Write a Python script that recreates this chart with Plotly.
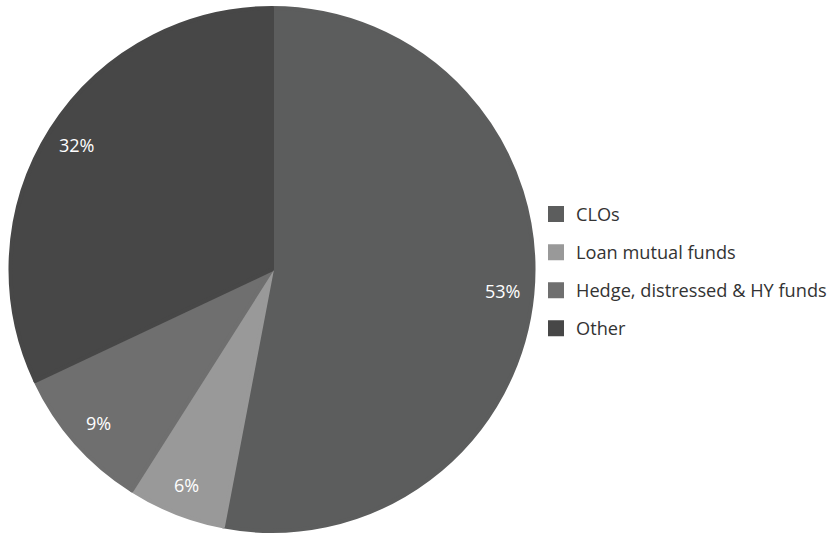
import math
import plotly.graph_objects as go

# Share of institutional loan investors
categories = ["CLOs", "Loan mutual funds", "Hedge, distressed & HY funds", "Other"]
shares = [53, 6, 9, 32]
slice_colors = ["#5c5d5d", "#999999", "#6f6f6f", "#474747"]

W, H = 835, 536
edge = 4  # slice outline in the slice's own colour (also enlarges legend swatches)
dom_x = [(7 + edge / 2) / W, (537 - edge / 2) / W]
dom_y = [(3 + edge / 2) / H, (530 - edge / 2) / H]

fig = go.Figure(
    go.Pie(
        labels=[
            f'<span style="font-size:18.2px;baseline-shift:4px">{c}</span>'
            for c in categories
        ],
        values=shares,
        sort=False,
        direction="clockwise",
        rotation=0,
        marker=dict(colors=slice_colors, line=dict(width=edge, color=slice_colors)),
        textinfo="none",
        hoverinfo="label+percent",
        domain=dict(x=dom_x, y=dom_y),
    )
)

# percentage labels placed along each slice's mid-angle
cx = (dom_x[0] + dom_x[1]) / 2 * W
cy = (1 - (dom_y[0] + dom_y[1]) / 2) * H
radius = min((dom_x[1] - dom_x[0]) * W, (dom_y[1] - dom_y[0]) * H) / 2 + edge / 2
total = sum(shares)
cum = 0
for v in shares:
    mid = (cum + v / 2) / total * 2 * math.pi
    cum += v
    px = cx + 0.88 * radius * math.sin(mid)
    py = cy - 0.88 * radius * math.cos(mid)
    fig.add_annotation(
        x=px / W, y=1 - py / H, xref="paper", yref="paper",
        xanchor="center", yanchor="middle",
        text=f"{round(v / total * 100)}%", showarrow=False,
        font=dict(family="Open Sans", size=18, color="#ffffff"),
    )

fig.update_layout(
    width=W, height=H,
    margin=dict(l=0, r=0, t=0, b=0, autoexpand=False),
    paper_bgcolor="#ffffff",
    plot_bgcolor="#ffffff",
    font=dict(family="Open Sans", color="#333333"),
    legend=dict(
        x=536 / W, xanchor="left",
        y=1 - 271.5 / H, yanchor="middle",
        font=dict(family="Open Sans", size=27, color="#333333"),
        bgcolor="rgba(0,0,0,0)",
    ),
)

fig.write_html("out.html")
